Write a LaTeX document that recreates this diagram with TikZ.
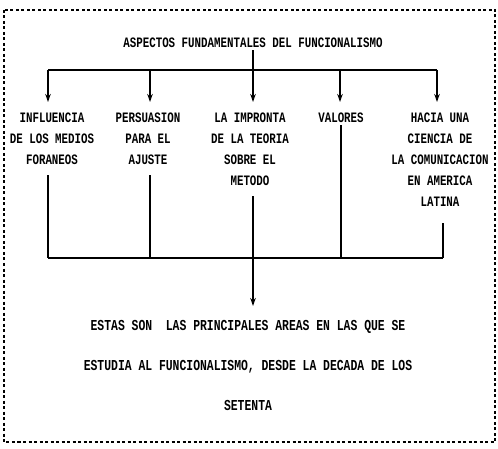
\documentclass[tikz,border=0pt]{standalone}
\usepackage{fontspec}
\setmainfont{Liberation Mono}[FakeStretch=0.75]
\usetikzlibrary{arrows.meta}

\tikzset{
  aspecto/.style={align=center, inner sep=2pt, font=\fontsize{14.4}{21}\selectfont\bfseries},
  conclusion/.style={align=center, inner sep=2pt, font=\fontsize{15.2}{40}\selectfont\bfseries},
  linea/.style={line width=1.5pt},
  bajada/.style={line width=1.5pt, shorten <=8pt},
  flecha/.style={line width=1.5pt, -{Stealth[length=8pt,width=5.5pt]}},
}

\begin{document}
\begin{tikzpicture}[x=1pt,y=-1pt]
        \useasboundingbox (0,0) rectangle (498,449);
        \draw[line width=1.2pt, dash pattern=on 3pt off 2.5pt] (4,10) rectangle (495,442);

        \node[aspecto] (titulo) at (253,43) {ASPECTOS FUNDAMENTALES DEL FUNCIONALISMO};

        \node[aspecto, anchor=north] (influencia) at (52,111) {INFLUENCIA\\DE LOS MEDIOS\\FORANEOS};
        \node[aspecto, anchor=north] (persuasion) at (148,111) {PERSUASION\\PARA EL\\AJUSTE};
        \node[aspecto, anchor=north] (impronta) at (250,111) {LA IMPRONTA\\DE LA TEORIA\\SOBRE EL\\METODO};
        \node[aspecto, anchor=north] (valores) at (341,111) {VALORES};
        \node[aspecto, anchor=north] (hacia) at (440,111) {HACIA UNA\\CIENCIA DE\\LA COMUNICACION\\EN AMERICA\\LATINA};

        \node[conclusion, anchor=north] (resumen) at (248,318) {ESTAS SON\ \ LAS PRINCIPALES AREAS EN LAS QUE SE\\ESTUDIA AL FUNCIONALISMO, DESDE LA DECADA DE LOS\\SETENTA};

        % reparto hacia los aspectos
        \coordinate (cruce) at (253,70);
        \coordinate (arriba1) at (48,70);
        \coordinate (arriba2) at (150,70);
        \coordinate (arriba4) at (340,70);
        \coordinate (arriba5) at (437,70);

        \draw [linea] (titulo.south) -- (cruce);
        \draw [linea] (arriba1) -- (arriba5);

        \draw [flecha, shorten >=9pt] (arriba1) -- (arriba1 |- influencia.north);
        \draw [flecha, shorten >=9pt] (arriba2) -- (arriba2 |- persuasion.north);
        \draw [flecha, shorten >=9pt] (cruce) -- (cruce |- impronta.north);
        \draw [flecha, shorten >=9pt] (arriba4) -- (arriba4 |- valores.north);
        \draw [flecha, shorten >=9pt] (arriba5) -- (arriba5 |- hacia.north);

        % union hacia la conclusion
        \coordinate (abajo1) at (48,258);
        \coordinate (abajo2) at (150,258);
        \coordinate (abajo3) at (253,258);
        \coordinate (abajo4) at (341,258);
        \coordinate (abajo5) at (443,258);

        \draw [bajada] (influencia.south -| abajo1) -- (abajo1);
        \draw [bajada] (persuasion.south -| abajo2) -- (abajo2);
        \draw [bajada] (impronta.south -| abajo3) -- (abajo3);
        \draw [linea] (valores.south -| abajo4) -- (abajo4);
        \draw [bajada, shorten <=14pt] (hacia.south -| abajo5) -- (abajo5);
        \draw [linea] (abajo1) -- (abajo5);

        \draw [flecha, shorten >=12pt] (abajo3) -- (abajo3 |- resumen.north);
\end{tikzpicture}
\end{document}
